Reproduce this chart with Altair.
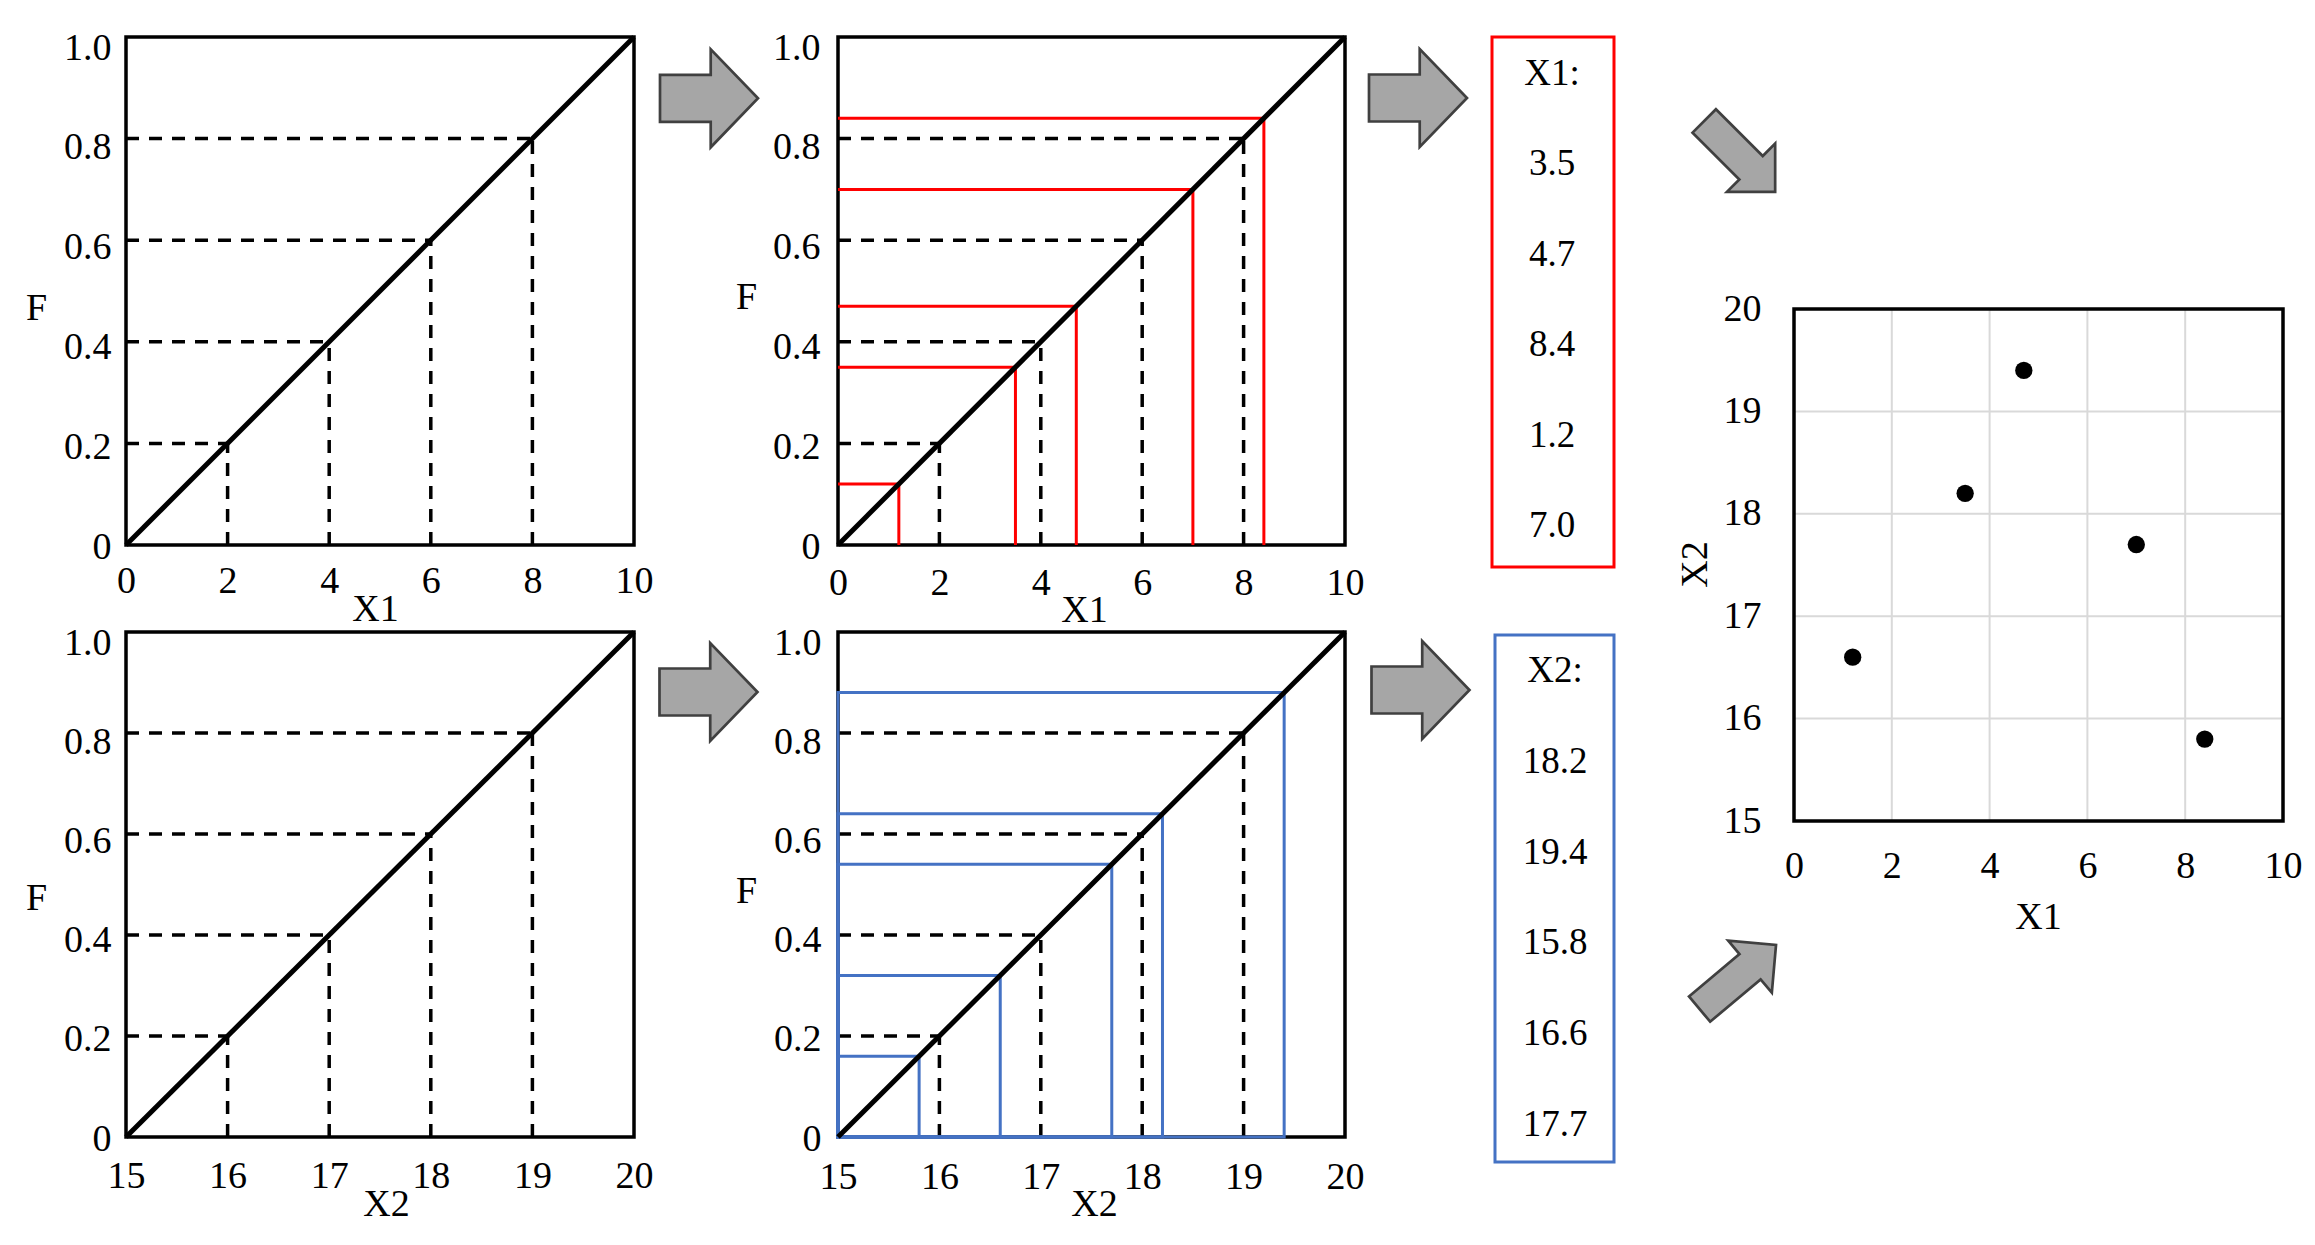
import altair as alt
import pandas as pd

FONT = "Liberation Serif"
FS = 38
BOX_FS = 37
RED = "#ff0000"
BLUE = "#4472c4"
GRID = "#d9d9d9"
ARROW_FILL = "#a6a6a6"
ARROW_STROKE = "#404040"

# ---------------- data ----------------
x1_domain = [0, 10]
x2_domain = [15, 20]
f_domain = [0, 1]
x1_ticks = [0, 2, 4, 6, 8, 10]
x2_ticks = [15, 16, 17, 18, 19, 20]
f_ticks = [0, 0.2, 0.4, 0.6, 0.8, 1.0]
cdf_F = [0, 1]

f_levels = [0.2, 0.4, 0.6, 0.8]
x1_levels = [2, 4, 6, 8]
x2_levels = [16, 17, 18, 19]

x1_samples = [3.5, 4.7, 8.4, 1.2, 7.0]
f1_samples = [0.35, 0.47, 0.84, 0.12, 0.70]
x2_samples = [18.2, 19.4, 15.8, 16.6, 17.7]
f2_samples = [0.64, 0.88, 0.16, 0.32, 0.54]

grid_x1 = [2, 4, 6, 8]
grid_x2 = [16, 17, 18, 19]

# ---------------- decoration shapes ----------------
RIGHT_ARROW = "M-1,-0.48L0.035,-0.48L0.035,-1L1,0L0.035,1L0.035,0.48L-1,0.48Z"
DIAG_ARROW = "M-1,-0.33L0.32,-0.33L0.32,-0.68L1,0L0.32,0.68L0.32,0.33L-1,0.33Z"
one = pd.DataFrame({"k": [0]})


def arrow_cell(xp, yp, shape, size, angle, w, h):
    return alt.Chart(one).mark_point(
        shape=shape, size=size, filled=True, fill=ARROW_FILL, stroke=ARROW_STROKE,
        strokeWidth=2.7, opacity=1, fillOpacity=1, strokeOpacity=1, angle=angle
    ).encode(x=alt.value(xp), y=alt.value(yp)).properties(width=w, height=h)


def cdf_panel(dom, ticks, levels, xtitle, samples, sample_f, color, as_rect, w, h, lay):
    xs = alt.Scale(domain=dom, nice=False, zero=False)
    ys = alt.Scale(domain=f_domain, nice=False, zero=False)
    xaxis = alt.Axis(values=ticks, format="d", ticks=False, domain=False, grid=False,
                     labelFlush=False, labelOverlap=False, labelBaseline="middle",
                     labelPadding=lay["xlp"], title=xtitle, titleX=lay["xtx"], titleY=lay["xty"],
                     titleAlign="center", titleBaseline="middle")
    yaxis = alt.Axis(values=f_ticks,
                     labelExpr="datum.value == 0 ? '0' : format(datum.value, '.1f')",
                     ticks=False, domain=False, grid=False, labelOverlap=False, labelFlush=False,
                     labelPadding=lay["ylp"], labelOffset=alt.ExprRef(expr="2 + 9 * datum.value"),
                     labelBaseline="middle",
                     title="F", titleAngle=0, titleX=lay["ytx"], titleY=lay["yty"],
                     titleAlign="center", titleBaseline="middle")
    n = len(levels)
    lev_df = pd.DataFrame({"x0": [dom[0]] * n, "xl": levels, "y0": [0] * n, "F": f_levels})
    m = len(samples)
    smp_df = pd.DataFrame({"x0": [dom[0]] * m, "xs": samples, "y0": [0] * m, "Fs": sample_f})
    diag_df = pd.DataFrame({"x": dom, "F": cdf_F})

    def X(f):
        return alt.X(f, scale=xs, axis=xaxis)

    def Y(f):
        return alt.Y(f, scale=ys, axis=yaxis)

    dash = dict(color="black", strokeWidth=3.5, strokeDash=[13, 10])
    dash_h = alt.Chart(lev_df).mark_rule(**dash).encode(x=X("x0:Q"), x2="xl:Q", y=Y("F:Q"))
    dash_v = alt.Chart(lev_df).mark_rule(**dash).encode(x=X("xl:Q"), y=Y("y0:Q"), y2="F:Q")
    layers = [dash_h, dash_v]
    if samples:
        if as_rect:
            layers.append(alt.Chart(smp_df).mark_rect(fillOpacity=0, stroke=color, strokeWidth=3).encode(
                x=X("x0:Q"), x2="xs:Q", y=Y("y0:Q"), y2="Fs:Q"))
        else:
            layers.append(alt.Chart(smp_df).mark_rule(color=color, strokeWidth=3).encode(
                x=X("x0:Q"), x2="xs:Q", y=Y("Fs:Q")))
            layers.append(alt.Chart(smp_df).mark_rule(color=color, strokeWidth=3).encode(
                x=X("xs:Q"), y=Y("y0:Q"), y2="Fs:Q"))
    diag = alt.Chart(diag_df).mark_line(color="black", strokeWidth=5).encode(x=X("x:Q"), y=Y("F:Q"))
    layers.append(diag)
    return alt.layer(*layers).properties(
        width=w, height=h, view=alt.ViewBackground(stroke="black", strokeWidth=3.5))


p1 = cdf_panel(x1_domain, x1_ticks, x1_levels, "X1", [], [], None, False, 508, 508,
               dict(xlp=36, xtx=249, xty=64, ylp=15, ytx=-90, yty=271))
p2 = cdf_panel(x1_domain, x1_ticks, x1_levels, "X1", x1_samples, f1_samples, RED, False, 507, 508,
               dict(xlp=38, xtx=246, xty=65, ylp=18, ytx=-92, yty=260))
p3 = cdf_panel(x2_domain, x2_ticks, x2_levels, "X2", [], [], None, False, 508, 505,
               dict(xlp=39, xtx=260, xty=67, ylp=15, ytx=-90, yty=266))
p4 = cdf_panel(x2_domain, x2_ticks, x2_levels, "X2", x2_samples, f2_samples, BLUE, True, 507, 505,
               dict(xlp=40, xtx=256, xty=67, ylp=17, ytx=-92, yty=259))

a1 = arrow_cell(75, 61.3, RIGHT_ARROW, 9604, 0, 204, 508)
a3 = arrow_cell(74.5, 60, RIGHT_ARROW, 9604, 0, 204, 505)
a2 = arrow_cell(73, 61, RIGHT_ARROW, 9604, 0, 147, 508)
a4 = arrow_cell(75.5, 58, RIGHT_ARROW, 9604, 0, 147, 505)
d1 = arrow_cell(125.7, 119.4, DIAG_ARROW, 10060, 45, 180, 508)
d2 = arrow_cell(123.8, 345, DIAG_ARROW, 9960, 320, 180, 505)


def box_cell(title, values, color, x0, x1, y0, y1, tx, r0, r1, h):
    rect = alt.Chart(one).mark_rect(fillOpacity=0, stroke=color, strokeWidth=3).encode(
        x=alt.value(x0), x2=alt.value(x1), y=alt.value(y0), y2=alt.value(y1))
    df = pd.DataFrame({"row": list(range(len(values) + 1)),
                       "label": [title] + [f"{v:.1f}" for v in values]})
    txt = alt.Chart(df).mark_text(font=FONT, fontSize=BOX_FS, color="black", align="center",
                                  baseline="middle").encode(
        x=alt.value(tx),
        y=alt.Y("row:Q", scale=alt.Scale(domain=[0, len(values)], range=[r0, r1]), axis=None),
        text="label:N")
    return alt.layer(rect, txt).properties(width=122, height=h)


box_top = box_cell("X1:", x1_samples, RED, 0, 122, 0, 530, 60, 36.7, 489, 508)
box_bot = box_cell("X2:", x2_samples, BLUE, 3, 122, 3, 530, 63, 39, 493, 505)

# scatter
pts = pd.DataFrame({"X1": x1_samples, "X2": x2_samples})
sx = alt.Scale(domain=x1_domain, nice=False, zero=False)
sy = alt.Scale(domain=x2_domain, nice=False, zero=False, range=[784, 272])
xa = alt.Axis(values=x1_ticks, format="d", ticks=False, domain=False, grid=False, labelFlush=False,
              labelOverlap=False, labelBaseline="middle", labelPadding=45, offset=276,
              title="X1", titleX=244, titleY=96, titleAlign="center", titleBaseline="middle")
ya = alt.Axis(values=x2_ticks, format="d", ticks=False, domain=False, grid=False, labelOverlap=False,
              labelFlush=False, labelPadding=33, labelBaseline="middle",
              title="X2", titleAngle=270, titleX=-99, titleY=527, titleAlign="center",
              titleBaseline="middle")
gv = pd.DataFrame({"g": grid_x1, "lo": [x2_domain[0]] * 4, "hi": [x2_domain[1]] * 4})
gh = pd.DataFrame({"g": grid_x2, "lo": [x1_domain[0]] * 4, "hi": [x1_domain[1]] * 4})
fr = pd.DataFrame({"a": [x1_domain[0]], "b": [x1_domain[1]], "c": [x2_domain[0]], "d": [x2_domain[1]]})
grid_v = alt.Chart(gv).mark_rule(color=GRID, strokeWidth=2).encode(
    x=alt.X("g:Q", scale=sx, axis=xa), y=alt.Y("lo:Q", scale=sy, axis=ya), y2="hi:Q")
grid_h = alt.Chart(gh).mark_rule(color=GRID, strokeWidth=2).encode(
    y=alt.Y("g:Q", scale=sy, axis=ya), x=alt.X("lo:Q", scale=sx, axis=xa), x2="hi:Q")
frame = alt.Chart(fr).mark_rect(fillOpacity=0, stroke="black", strokeWidth=3.5).encode(
    x=alt.X("a:Q", scale=sx, axis=xa), x2="b:Q", y=alt.Y("c:Q", scale=sy, axis=ya), y2="d:Q")
dots = alt.Chart(pts).mark_circle(size=300, color="black", opacity=1).encode(
    x=alt.X("X1:Q", scale=sx, axis=xa), y=alt.Y("X2:Q", scale=sy, axis=ya))
scat = alt.layer(grid_v, grid_h, frame, dots).properties(width=489, height=508)

chart = alt.concat(
    p1, a1, p2, a2, box_top, d1, scat,
    p3, a3, p4, a4, box_bot, d2,
    columns=7, spacing={"row": 87, "column": 0}, bounds="flush"
).properties(
    padding={"left": 15, "top": 17, "right": 5, "bottom": 5}
).configure_view(strokeWidth=0).configure_axis(
    labelFont=FONT, labelFontSize=FS, labelColor="black",
    titleFont=FONT, titleFontSize=FS, titleFontWeight="normal", titleColor="black"
).configure_text(font=FONT, fontSize=FS)

chart.save("out.html", embed_options={"renderer": "svg", "actions": False})
